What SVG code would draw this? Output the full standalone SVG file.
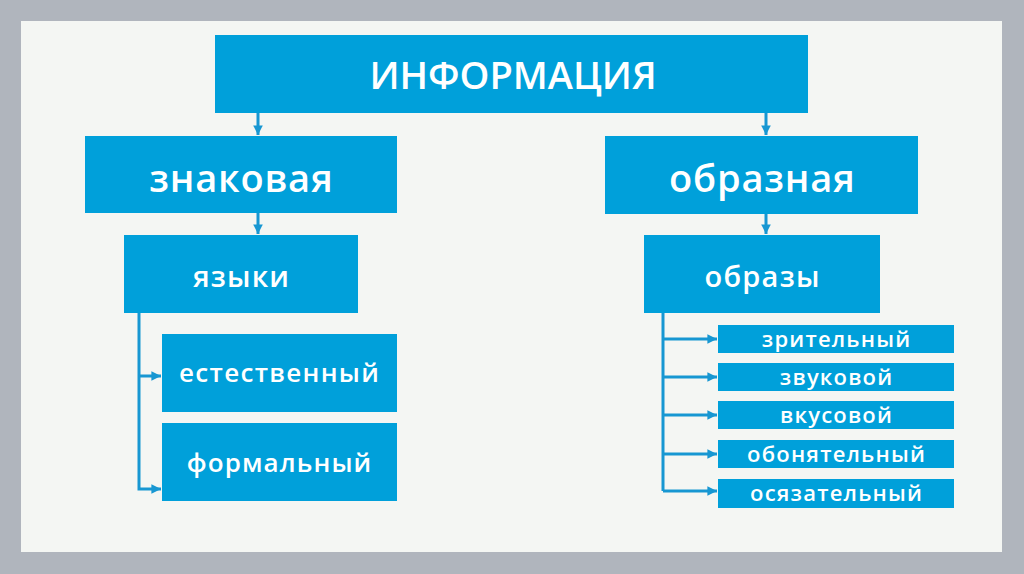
<svg xmlns="http://www.w3.org/2000/svg" width="1024" height="574" viewBox="0 0 1024 574">
<defs>
<style>
.box{fill:#00a0da}
.t{fill:#fff;font-family:"Open Sans","DejaVu Sans",sans-serif;font-weight:600;text-anchor:middle}
.l{stroke:#1797d2;stroke-width:3;fill:none}
.s{font-size:22px;letter-spacing:1.2px}
</style>
<marker id="ah" viewBox="0 0 10 10" refX="10" refY="5" markerWidth="3.2" markerHeight="3.2" orient="auto" markerUnits="strokeWidth">
<path d="M0,0 L10,5 L0,10 Z" fill="#1797d2"/>
</marker>
</defs>
<rect x="0" y="0" width="1024" height="574" fill="#b0b5bd"/>
<rect x="21" y="21" width="981" height="531" fill="#f4f6f3"/>
<g id="connectors">
<line class="l" x1="258" y1="113" x2="258" y2="135" marker-end="url(#ah)"/>
<line class="l" x1="766" y1="113" x2="766" y2="135" marker-end="url(#ah)"/>
<line class="l" x1="258" y1="213" x2="258" y2="234" marker-end="url(#ah)"/>
<line class="l" x1="766" y1="214" x2="766" y2="234" marker-end="url(#ah)"/>
<polyline class="l" points="139,313 139,489 161,489" marker-end="url(#ah)"/>
<line class="l" x1="139" y1="376" x2="161" y2="376" marker-end="url(#ah)"/>
<line class="l" x1="663" y1="313" x2="663" y2="491"/>
<line class="l" x1="663" y1="339" x2="717" y2="339" marker-end="url(#ah)"/>
<line class="l" x1="663" y1="377" x2="717" y2="377" marker-end="url(#ah)"/>
<line class="l" x1="663" y1="415" x2="717" y2="415" marker-end="url(#ah)"/>
<line class="l" x1="663" y1="454" x2="717" y2="454" marker-end="url(#ah)"/>
<line class="l" x1="663" y1="491" x2="717" y2="491" marker-end="url(#ah)"/>
</g>
<g id="informaciya"><rect class="box" x="215" y="35" width="593" height="78"/><text class="t" x="513" y="89" font-size="38">ИНФОРМАЦИЯ</text></g>
<g id="znakovaya"><rect class="box" x="85" y="136" width="312" height="77"/><text class="t" x="241.4" y="192" font-size="38" letter-spacing="0.8">знаковая</text></g>
<g id="obraznaya"><rect class="box" x="605" y="136" width="313" height="78"/><text class="t" x="762.4" y="192" font-size="38" letter-spacing="0.8">образная</text></g>
<g id="yazyki"><rect class="box" x="124" y="235" width="234" height="78"/><text class="t" x="241.6" y="287" font-size="29" letter-spacing="1.2">языки</text></g>
<g id="obrazy"><rect class="box" x="644" y="235" width="236" height="78"/><text class="t" x="762.6" y="287" font-size="29" letter-spacing="1.2">образы</text></g>
<g id="estestvennyi"><rect class="box" x="162" y="334" width="235" height="78"/><text class="t" x="279.6" y="382" font-size="26" letter-spacing="1.3">естественный</text></g>
<g id="formalnyi"><rect class="box" x="162" y="423" width="235" height="78"/><text class="t" x="279.5" y="472" font-size="26" letter-spacing="1.1">формальный</text></g>
<g id="zritelnyi"><rect class="box" x="718" y="325" width="236" height="28"/><text class="t s" x="836.6" y="347">зрительный</text></g>
<g id="zvukovoi"><rect class="box" x="718" y="363" width="236" height="28"/><text class="t s" x="836.6" y="385">звуковой</text></g>
<g id="vkusovoi"><rect class="box" x="718" y="401" width="236" height="28"/><text class="t s" x="836.6" y="423">вкусовой</text></g>
<g id="obonyatelnyi"><rect class="box" x="718" y="440" width="236" height="28"/><text class="t s" x="836.6" y="462">обонятельный</text></g>
<g id="osyazatelnyi"><rect class="box" x="718" y="479" width="236" height="29"/><text class="t s" x="836.6" y="501">осязательный</text></g>
</svg>
